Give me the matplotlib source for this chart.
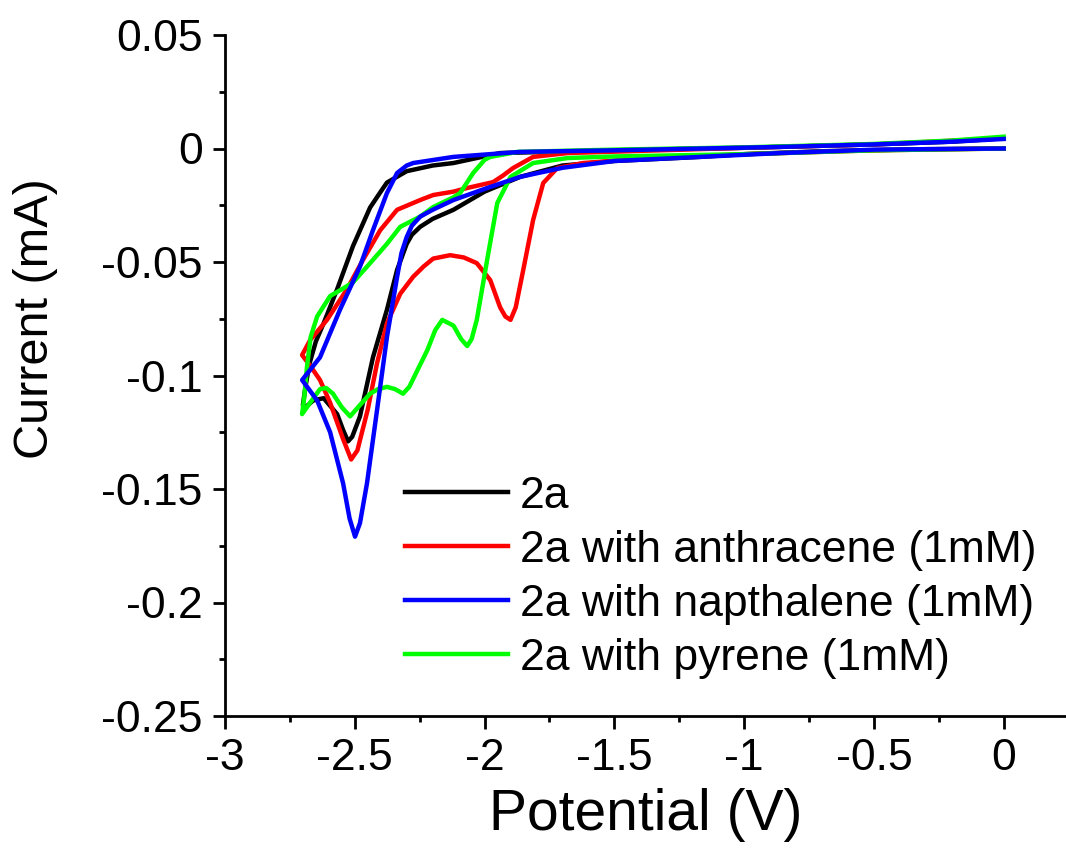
import matplotlib
matplotlib.use('Agg')
import matplotlib.pyplot as plt
from matplotlib.ticker import MultipleLocator

plt.rcParams['font.family'] = ['Liberation Sans', 'DejaVu Sans']

# 2a (potential V, current mA), lower branch then return branch
v_2a = [0.0, -0.3, -0.7, -1.0, -1.17, -1.5, -1.7, -1.863, -2.0, -2.12, -2.2, -2.248,
        -2.28, -2.30, -2.337, -2.376, -2.43, -2.48, -2.51, -2.526, -2.545, -2.568,
        -2.62, -2.66, -2.69, -2.70,
        -2.69, -2.675, -2.65, -2.62, -2.568, -2.507, -2.441, -2.40, -2.376, -2.30,
        -2.2, -2.12, -1.94, -1.5, -1.0, -0.5, -0.2, 0.0]
i_2a = [0.0, -0.0003, -0.0012, -0.0025, -0.0037, -0.0055, -0.0075, -0.0125, -0.019,
        -0.027, -0.031, -0.0345, -0.038, -0.042, -0.0535, -0.071, -0.092, -0.118,
        -0.127, -0.129, -0.124, -0.117, -0.110, -0.111, -0.114, -0.113,
        -0.105, -0.095, -0.085, -0.077, -0.062, -0.043, -0.026, -0.019, -0.015,
        -0.010, -0.0075, -0.0064, -0.002, -0.0008, 0.0003, 0.0018, 0.003, 0.0045]

# 2a with anthracene
v_anth = [0.0, -0.5, -1.0, -1.36, -1.62, -1.72, -1.774, -1.813, -1.851, -1.88, -1.90,
          -1.92, -1.94, -1.978, -2.03, -2.08, -2.133, -2.198, -2.235, -2.275, -2.325,
          -2.376, -2.414, -2.45, -2.49, -2.514, -2.545, -2.595, -2.634, -2.67, -2.703,
          -2.672, -2.607, -2.53, -2.468, -2.402, -2.337, -2.248, -2.198, -2.12, -2.067,
          -1.967, -1.93, -1.89, -1.813, -1.68, -1.0, -0.5, 0.0]
i_anth = [0.0, -0.0008, -0.0025, -0.0042, -0.0064, -0.0086, -0.0152, -0.0315, -0.0535,
          -0.070, -0.0755, -0.074, -0.070, -0.058, -0.0505, -0.048, -0.047, -0.0485,
          -0.052, -0.0565, -0.064, -0.077, -0.0945, -0.115, -0.133, -0.137, -0.128,
          -0.112, -0.102, -0.096, -0.091,
          -0.0844, -0.0755, -0.062, -0.049, -0.036, -0.027, -0.0227, -0.0205, -0.019,
          -0.0174, -0.0148, -0.012, -0.0086, -0.0037, -0.002, 0.0003, 0.0018, 0.0045]

# 2a with napthalene
v_naph = [0.0, -0.5, -0.86, -1.17, -1.5, -1.7, -1.863, -1.99, -2.12, -2.2, -2.248, -2.28,
          -2.30, -2.32, -2.337, -2.376, -2.414, -2.453, -2.48, -2.499, -2.52, -2.545,
          -2.595, -2.645, -2.703,
          -2.634, -2.557, -2.48, -2.43, -2.376, -2.337, -2.30, -2.275, -2.12, -1.863,
          -1.5, -0.86, -0.5, -0.2, 0.0]
i_naph = [0.0, -0.0005, -0.002, -0.0037, -0.0055, -0.0085, -0.0125, -0.0174, -0.0227,
          -0.027, -0.030, -0.034, -0.039, -0.046, -0.0566, -0.083, -0.115, -0.1475,
          -0.165, -0.171, -0.163, -0.1475, -0.125, -0.111, -0.102,
          -0.092, -0.071, -0.052, -0.036, -0.0196, -0.0108, -0.0075, -0.0064, -0.0037,
          -0.0015, -0.0008, 0.0007, 0.0018, 0.003, 0.0042]

# 2a with pyrene
v_pyr = [0.0, -0.5, -1.0, -1.5, -1.68, -1.813, -1.90, -1.951, -1.99, -2.03, -2.05,
         -2.067, -2.09, -2.12, -2.163, -2.19, -2.22, -2.26, -2.29, -2.314, -2.345,
         -2.376, -2.41, -2.441, -2.48, -2.518, -2.55, -2.584, -2.61, -2.634, -2.672,
         -2.703,
         -2.695, -2.684, -2.67, -2.645, -2.595, -2.55, -2.507, -2.441, -2.376, -2.325,
         -2.248, -2.198, -2.12, -2.094, -2.044, -2.0, -1.978, -1.874, -1.5, -1.0,
         -0.5, -0.2, 0.0]
i_pyr = [0.0, -0.0008, -0.0025, -0.0035, -0.0042, -0.0064, -0.0125, -0.024, -0.049,
         -0.0755, -0.084, -0.087, -0.084, -0.078, -0.0755, -0.080, -0.0887, -0.098,
         -0.105, -0.108, -0.106, -0.105, -0.106, -0.108, -0.113, -0.118, -0.114,
         -0.108, -0.1055, -0.106, -0.112, -0.117,
         -0.110, -0.096, -0.083, -0.074, -0.065, -0.062, -0.059, -0.0505, -0.042,
         -0.0345, -0.030, -0.0258, -0.0215, -0.0196, -0.0108, -0.005, -0.0037,
         -0.0015, -0.0005, 0.0005, 0.002, 0.0035, 0.0052]

labels = ['2a', '2a with anthracene (1mM)', '2a with napthalene (1mM)',
          '2a with pyrene (1mM)']

fig = plt.figure(figsize=(10.66, 8.68), dpi=100)
ax = fig.add_axes([225 / 1066, 1 - 716 / 868, 841 / 1066, 681 / 868])

lw = 3.2
l1, = ax.plot(v_2a, i_2a, color='black', lw=lw, label=labels[0])
l2, = ax.plot(v_anth, i_anth, color='#ff0000', lw=lw, label=labels[1])
l4, = ax.plot(v_pyr, i_pyr, color='#00ff00', lw=lw, label=labels[3])
l3, = ax.plot(v_naph, i_naph, color='#0000ff', lw=lw, label=labels[2])

ax.set_xlim(-3, 0.24)
ax.set_ylim(-0.25, 0.05)
ax.xaxis.set_minor_locator(MultipleLocator(0.25))
ax.yaxis.set_minor_locator(MultipleLocator(0.025))
ax.set_xticks([-3, -2.5, -2, -1.5, -1, -0.5, 0])
ax.set_xticklabels(['-3', '-2.5', '-2', '-1.5', '-1', '-0.5', '0'])
ax.set_yticks([-0.25, -0.2, -0.15, -0.1, -0.05, 0, 0.05])
ax.set_yticklabels(['-0.25', '-0.2', '-0.15', '-0.1', '-0.05', '0', '0.05'])

for s in ['top', 'right']:
    ax.spines[s].set_visible(False)
for s in ['left', 'bottom']:
    ax.spines[s].set_linewidth(2)
ax.tick_params(which='major', direction='out', length=9, width=2,
               labelsize=32, pad=7)
ax.tick_params(which='minor', direction='out', length=4.5, width=2)

ax.set_xlabel('Potential (V)', fontsize=41, labelpad=6)
ax.set_ylabel('Current (mA)', fontsize=35)
ax.yaxis.set_label_coords(-0.198, 0.584)

ax.legend([l1, l2, l3, l4], labels, loc='upper left',
          bbox_to_anchor=(405 / 1066, 1 - 476 / 868), bbox_transform=fig.transFigure,
          frameon=False, fontsize=32, handlelength=2.32, handletextpad=0.27,
          labelspacing=0.29, borderpad=0, borderaxespad=0)

fig.savefig('out.png', dpi=100)
